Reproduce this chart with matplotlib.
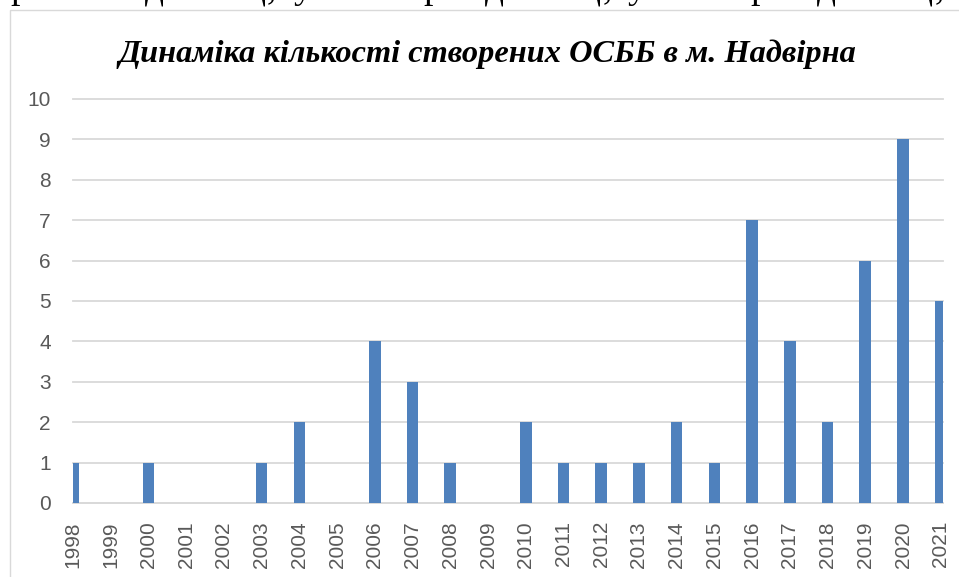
import matplotlib.pyplot as plt
import matplotlib.patches as patches
import numpy as np

# Years and number of created condominium associations (ОСББ)
years = [str(y) for y in range(1998, 2022)]
counts = [1, 0, 1, 0, 0, 1, 2, 0, 4, 3, 1, 0, 2, 1, 1, 1, 2, 1, 7, 4, 2, 6, 9, 5]

TITLE = 'Динаміка кількості створених ОСББ в м. Надвірна'

# Descender fragments of the document line cut off above the chart
top_chars = ['р', 'о', 'д', 'ц', ',', 'у', 'о', 'р', 'о', 'д', 'ц', ',', 'у', 'о', 'р', 'о', 'д', 'ц', ',', 'у', 'о', 'р', 'о', 'д']
top_x = [10, 90, 145, 245, 267, 293, 347, 423, 450, 485, 580, 603, 627, 677, 750, 773, 817, 912, 935, 959, 1010, 1085, 1110, 1150]

W, H = 959, 577
fig = plt.figure(figsize=(W / 100, H / 100), dpi=100)

# light frame of the chart area
frame = patches.Rectangle((9.5 / W, -0.1), 1.2, 1.1 - 9.5 / H, transform=fig.transFigure,
                          fill=False, edgecolor='#d9d9d9', linewidth=1.0)
fig.patches.append(frame)

for ch, xp in zip(top_chars, top_x):
    fig.text(xp / W, 1 + 2.0 / H, ch, fontsize=27, family='Liberation Serif',
             ha='left', va='baseline', color='black')

left, right = 73 / W, 943 / W
bottom, top = (H - 503) / H, (H - 99) / H
ax = fig.add_axes([left, bottom, right - left, top - bottom])

x = np.arange(len(years))
ax.bar(x, counts, width=0.31, color='#4f81bd', zorder=3)

ax.set_xlim(0, 23.06)
ax.set_ylim(0, 10)
ax.set_yticks(range(0, 11))
ax.set_xticks(x)
ax.set_xticklabels(years, rotation=90)

ax.grid(axis='y', color='#d9d9d9', linewidth=1.3, zorder=0)
for gl in ax.get_ygridlines():
    gl.set_clip_on(False)
for side in ['top', 'right', 'left']:
    ax.spines[side].set_visible(False)
ax.spines['bottom'].set_color('#d9d9d9')
ax.spines['bottom'].set_linewidth(1.3)

ax.tick_params(axis='both', length=0, labelsize=15, labelcolor='#595959')
ax.tick_params(axis='y', pad=16)
ax.tick_params(axis='x', pad=13)
for lab in ax.get_xticklabels() + ax.get_yticklabels():
    lab.set_family('Liberation Sans')

fig.text(487 / W, 1 - 62 / H, TITLE, fontsize=23.3, family='Liberation Serif',
         fontweight='bold', fontstyle='italic', ha='center', va='baseline')

fig.savefig('out.png', dpi=100)
